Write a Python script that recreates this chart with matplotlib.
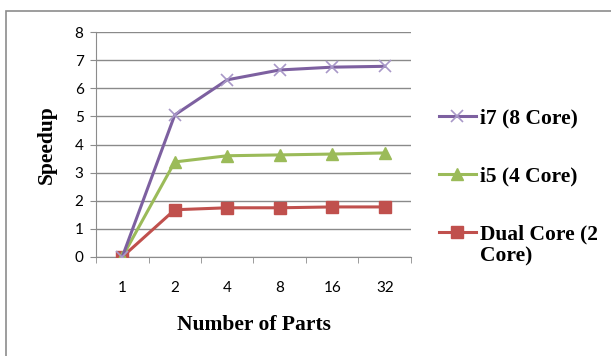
import matplotlib.pyplot as plt
from matplotlib.patches import Rectangle

parts = ['1', '2', '4', '8', '16', '32']
i7 = [0, 5.05, 6.3, 6.65, 6.75, 6.78]
i5 = [0, 3.38, 3.6, 3.63, 3.66, 3.7]
dual = [0, 1.68, 1.75, 1.75, 1.78, 1.78]

serif = {'family': 'Liberation Serif', 'weight': 'bold', 'size': 15.5}

fig = plt.figure(figsize=(6.11, 3.56), dpi=100)
fig.patches.append(Rectangle((6/611, -0.1), 1.2, 1.1 - 11/356, transform=fig.transFigure,
                             fill=False, edgecolor='#8c8c8c', linewidth=1.2))
ax = fig.add_axes([96/611, 1 - 257/356, 315/611, 225/356])

x = range(len(parts))
l3, = ax.plot(x, dual, '-s', color='#C0504D', lw=2.2, ms=8.5, zorder=3, label='Dual Core (2\nCore)')
l2, = ax.plot(x, i5, '-^', color='#9BBB59', lw=2.2, ms=9, zorder=4, label='i5 (4 Core)')
l1, = ax.plot(x, i7, '-x', color='#7D60A0', lw=2.2, ms=9, mec='#A898C8', mew=1.2, zorder=5,
              label='i7 (8 Core)')

ax.set_xlim(-0.5, 5.5)
ax.set_ylim(0, 8)
ax.set_yticks(range(9))
ax.set_xticks(list(x))
ax.set_xticklabels(parts)
ax.set_xticks([i - 0.5 for i in range(7)], minor=True)
ax.tick_params(axis='x', which='major', length=0, pad=17, labelsize=11)
ax.tick_params(axis='x', which='minor', length=4.5, color='#8c8c8c', direction='out')
ax.tick_params(axis='y', length=4, color='#8c8c8c', pad=5, labelsize=11)
for lab in ax.get_xticklabels() + ax.get_yticklabels():
    lab.set_fontfamily('Lato')
ax.grid(axis='y', color='#8a8a8a', lw=1)
ax.set_axisbelow(True)
for s in ['top', 'right']:
    ax.spines[s].set_visible(False)
for s in ['left', 'bottom']:
    ax.spines[s].set_color('#8c8c8c')

ax.set_xlabel('Number of Parts', fontdict=serif, labelpad=14.5)
ax.set_ylabel('Speedup', fontdict=serif, labelpad=13)

leg = ax.legend(handles=[l1, l2, l3], loc='upper left', bbox_to_anchor=(1.06, 0.70),
                frameon=False, prop=serif, handlelength=1.75, handletextpad=0.2,
                labelspacing=1.78, borderaxespad=0)
for t in leg.get_texts():
    t.set_linespacing(1.1)
leg._legend_handle_box.get_children()[0].get_children()[2].align = 'top'

fig.savefig('out.png', dpi=100)
